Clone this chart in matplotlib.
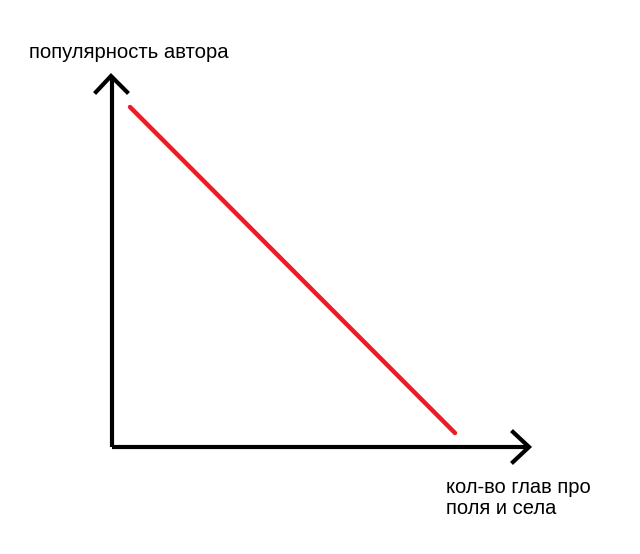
import matplotlib
matplotlib.use("Agg")
import matplotlib.pyplot as plt

# hand-drawn sketch, coordinates in picture pixels
y_label = "популярность автора"
x_label = "кол-во глав про\nполя и села"

# trend line (red)
trend_x = [130, 455]
trend_y = [107, 433]

# axes lines
y_axis_x = [112, 112]
y_axis_y = [447, 76]
x_axis_x = [112, 529]
x_axis_y = [447, 447]
# arrow heads
y_head_x = [96, 111, 127]
y_head_y = [92, 76, 92]
x_head_x = [513, 529, 513]
x_head_y = [432, 447, 462]

fig = plt.figure(figsize=(6.4, 5.54), dpi=100)
ax = fig.add_axes([0, 0, 1, 1])
ax.set_xlim(0, 640)
ax.set_ylim(554, 0)
ax.axis("off")

lw = 3.0
ax.plot(y_axis_x, y_axis_y, color="black", lw=lw, solid_capstyle="butt")
ax.plot(x_axis_x, x_axis_y, color="black", lw=lw, solid_capstyle="butt")
ax.plot(y_head_x, y_head_y, color="black", lw=lw, solid_joinstyle="miter")
ax.plot(x_head_x, x_head_y, color="black", lw=lw, solid_joinstyle="miter")
ax.plot(trend_x, trend_y, color="#ed1c24", lw=3.2, solid_capstyle="round")

ax.text(29, 52, y_label, fontsize=14.6, family="Liberation Sans", va="center", ha="left")
ax.text(446, 498, x_label, fontsize=14.5, family="Liberation Sans", va="center", ha="left",
        linespacing=1.1)

fig.savefig("out.png", dpi=100)
